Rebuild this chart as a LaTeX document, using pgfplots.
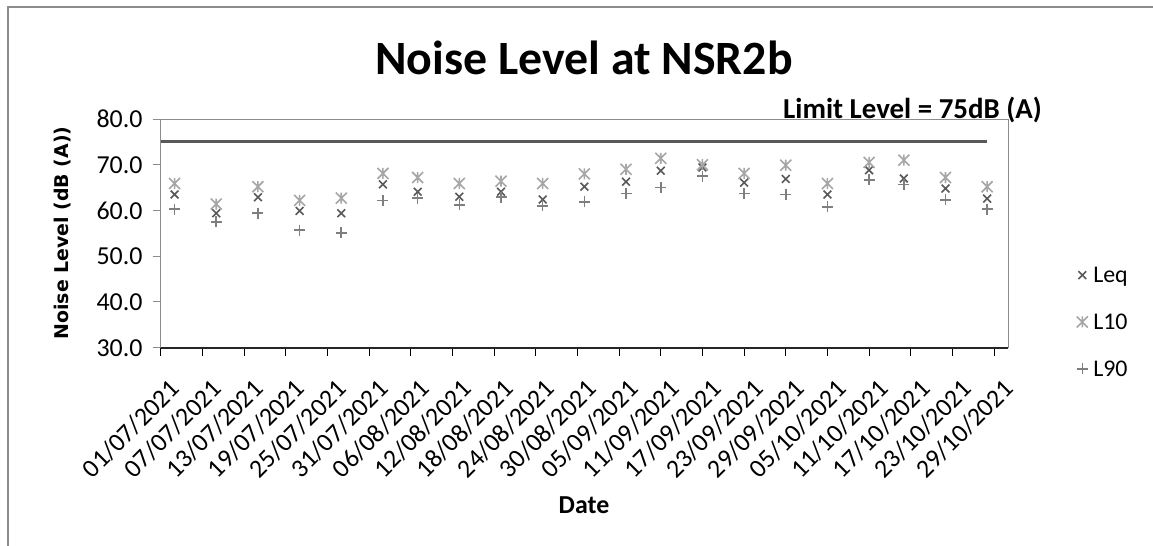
\documentclass[border=0pt]{standalone}
\usepackage{pgfplots}
\pgfplotsset{compat=1.18}
\usepackage{pgfplotstable}
\usepackage{fontspec}
\setmainfont{Carlito}
\newfontfamily\dejavub{DejaVu Sans}
\definecolor{leqc}{HTML}{595959}
\definecolor{lten}{HTML}{A6A6A6}
\definecolor{lnin}{HTML}{7F7F7F}
\definecolor{framec}{HTML}{8C8C8C}
\pgfdeclareplotmark{xstar}{%
 \pgfpathmoveto{\pgfqpoint{-\pgfplotmarksize}{-\pgfplotmarksize}}%
 \pgfpathlineto{\pgfqpoint{\pgfplotmarksize}{\pgfplotmarksize}}%
 \pgfpathmoveto{\pgfqpoint{-\pgfplotmarksize}{\pgfplotmarksize}}%
 \pgfpathlineto{\pgfqpoint{\pgfplotmarksize}{-\pgfplotmarksize}}%
 \pgfpathmoveto{\pgfqpoint{0pt}{-\pgfplotmarksize}}%
 \pgfpathlineto{\pgfqpoint{0pt}{\pgfplotmarksize}}%
 \pgfusepathqstroke}
\pgfplotstableread{
day Leq L10 L90
2 63.5 65.9 60.3
8 59.4 61.4 57.5
14 62.9 65.2 59.4
20 59.9 62.2 55.7
26 59.4 62.7 55.1
32 65.7 68.1 62.2
37 64.1 67.2 62.7
43 63.0 65.9 61.2
49 64.1 66.4 62.9
55 62.4 65.9 61.0
61 65.2 68.0 61.9
67 66.3 69.0 63.7
72 68.7 71.4 65.0
78 69.4 70.0 67.5
84 66.1 68.1 63.7
90 66.9 69.9 63.5
96 63.5 65.9 60.8
102 68.8 70.5 66.7
107 67.0 71.0 65.7
113 64.8 67.2 62.3
119 62.6 65.2 60.3
}\noisedata
\begin{document}
\begin{tikzpicture}
\useasboundingbox (0,0) rectangle (1153bp,546bp);
\draw[framec, line width=2bp] (8bp,0) -- (8bp,539bp) -- (1153bp,539bp);
\begin{axis}[
 at={(160.7bp,198.3bp)}, anchor=south west,
 scale only axis, width=847.3bp, height=228.7bp,
 xmin=0, xmax=122, ymin=30, ymax=80,
 xtick={0,6,...,120},
 xticklabels={01/07/2021,07/07/2021,13/07/2021,19/07/2021,25/07/2021,31/07/2021,06/08/2021,12/08/2021,18/08/2021,24/08/2021,30/08/2021,05/09/2021,11/09/2021,17/09/2021,23/09/2021,29/09/2021,05/10/2021,11/10/2021,17/10/2021,23/10/2021,29/10/2021},
 ytick={30,40,50,60,70,80},
 yticklabels={30.0,40.0,50.0,60.0,70.0,80.0},
 xtick pos=bottom, ytick pos=left,
 tick align=outside, major tick length=8bp,
 axis line style={draw=framec, line width=1bp},
 tick style={draw=black, line width=1bp},
 ytick style={draw=framec},
 tick label style={font=\fontsize{26}{26}\selectfont, text=black},
 xticklabel style={rotate=45, anchor=north east, inner sep=1bp, xshift=-9bp, yshift=-20bp},
 yticklabel style={anchor=east, inner sep=0bp, xshift=-10bp},
 clip=false,
 legend style={draw=none, fill=none, at={(1.078,0.112)}, anchor=west,
   font=\fontsize{24}{24}\selectfont, row sep=26bp, inner sep=0bp,
   legend cell align=left},
 legend image code/.code={\path[draw=none, fill=none] (0bp,-5bp) rectangle (17bp,5bp); \draw[#1] plot coordinates {(8bp,0bp)};},
]
\addplot[color=leqc, line width=3bp, forget plot] coordinates {(0,75) (119,75)};
\addplot[only marks, mark=x, mark size=5.5bp, draw=leqc, line width=1.6bp] table[x=day, y=Leq] {\noisedata};
\addlegendentry{Leq}
\addplot[only marks, mark=xstar, mark size=5.5bp, draw=lten, line width=1.6bp] table[x=day, y=L10] {\noisedata};
\addlegendentry{L10}
\addplot[only marks, mark=+, mark size=5.5bp, draw=lnin, line width=1.6bp] table[x=day, y=L90] {\noisedata};
\addlegendentry{L90}
\draw[black!85, line width=1.6bp] (rel axis cs:0,0) -- (rel axis cs:1,0);
\end{axis}
\node[anchor=base, font=\fontsize{48}{48}\selectfont\bfseries] at (584bp,471bp) {Noise Level at NSR2b};
\node[anchor=base west, font=\fontsize{29}{29}\selectfont\bfseries, inner sep=0pt] at (783bp,427bp) {Limit Level = 75dB (A)};
\node[font=\fontsize{26}{26}\selectfont\bfseries] at (584bp,41bp) {Date};
\node[rotate=90, font=\dejavub\fontsize{19}{19}\selectfont\bfseries] at (63bp,313bp) {Noise Level (dB (A))};
\end{tikzpicture}
\end{document}
